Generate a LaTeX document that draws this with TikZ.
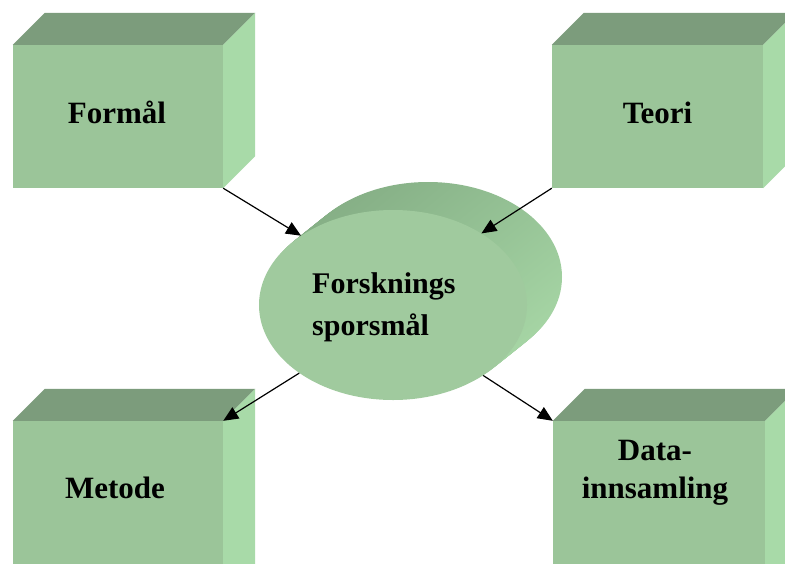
\documentclass[tikz,border=0pt]{standalone}
\usepackage{fontspec}
\setmainfont{Liberation Serif}
\usetikzlibrary{arrows.meta,shapes.geometric,shadings}

\definecolor{facefront}{RGB}{155,197,153}
\definecolor{facetop}{RGB}{124,156,124}
\definecolor{faceside}{RGB}{168,218,168}
\definecolor{discfront}{RGB}{160,202,158}
\definecolor{discdark}{RGB}{128,168,128}
\definecolor{discmid}{RGB}{150,195,150}
\definecolor{disclight}{RGB}{172,220,170}

\tikzset{
  front/.style={rectangle, fill=facefront, inner sep=0pt, minimum width=210pt},
  topface/.style={fill=facetop},
  sideface/.style={fill=faceside},
  label/.style={font=\fontsize{31}{38}\selectfont\bfseries, inner sep=0pt, align=center, text=black},
  link/.style={draw=black, line width=1.2pt, -{Triangle[length=15pt,width=13pt]}},
}

% draws the top and right faces behind a front face node
\newcommand{\boxdepth}[1]{%
  \fill[topface] (#1.north west) -- ++(32,-32) -- ([xshift=32pt,yshift=32pt]#1.north east) -- (#1.north east) -- cycle;
  \fill[sideface] (#1.north east) -- ++(32,-32) -- ([xshift=32pt,yshift=32pt]#1.south east) -- (#1.south east) -- cycle;
}

\begin{document}
\begin{tikzpicture}[x=1pt,y=-1pt]
  \useasboundingbox (0,0) rectangle (785,563);
  \fill[white] (0,0) rectangle (785,563);
  \clip (0,0) rectangle (785,563);

  % front faces of the four boxes
  \node[front, minimum height=143pt] (formal) at (118,116.5) {};
  \node[front, minimum width=211pt, minimum height=143pt] (teori) at (657.5,116.5) {};
  \node[front, minimum height=180pt] (metode) at (118,511) {};
  \node[front, minimum width=212pt, minimum height=180pt] (data) at (659,511) {};

  \boxdepth{formal}
  \boxdepth{teori}
  \boxdepth{metode}
  \boxdepth{data}

  % box labels
  \node[label, anchor=base] (lformal) at (117,123) {Formål};
  \node[label, anchor=base] (lteori) at (657.5,123) {Teori};
  \node[label, anchor=base] (lmetode) at (115,498) {Metode};
  \node[label, anchor=north] (ldata) at (655,439.5) {Data-\\innsamling};

  % the disc: stacked ellipses give the extruded side
  \foreach \t in {0,0.05,...,1.0} {
    \shade[upper left=discdark, upper right=discmid, lower left=discmid, lower right=disclight]
      ({428-35*\t},{277+28*\t}) ellipse [x radius=134, y radius=95];
  }
  \node[ellipse, fill=discfront, minimum width=268pt, minimum height=190pt, inner sep=0pt] (q) at (393,305) {};
  \node[font=\fontsize{30}{42}\selectfont\bfseries, inner sep=0pt, align=left, anchor=north west] (lq) at (312,272) {Forsknings\\sporsmål};

  % connectors
  \draw[link] (formal.south east) -- (q.143.7);
  \draw[link] (teori.south west) -- (q.39.3);
  \draw[link] (q.216.1) -- (metode.north east);
  \draw[link] (q.-38.2) -- (data.north west);
\end{tikzpicture}
\end{document}
